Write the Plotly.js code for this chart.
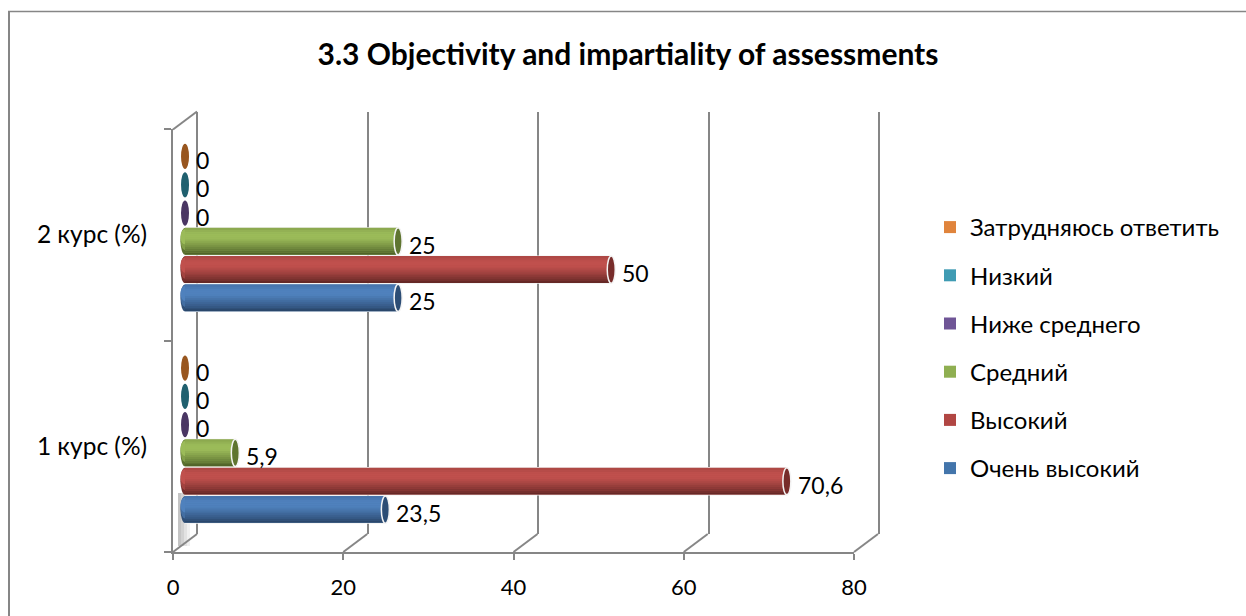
<!DOCTYPE html>
<html lang="ru">
<head>
<meta charset="utf-8">
<script src="https://cdn.plot.ly/plotly-3.0.1.min.js"></script>
<style>html,body{margin:0;padding:0;background:#fff;}#chart{width:1246px;height:616px;}</style>
</head>
<body>
<div id="chart"></div>
<script>
const courses = ['1 курс (%)', '2 курс (%)'];
const seriesNames = ['Очень высокий', 'Высокий', 'Средний', 'Ниже среднего', 'Низкий', 'Затрудняюсь ответить'];
const veryHigh = [23.5, 25];
const high = [70.6, 50];
const medium = [5.9, 25];
const belowMedium = [0, 0];
const low = [0, 0];
const hardToSay = [0, 0];
const seriesValues = [veryHigh, high, medium, belowMedium, low, hardToSay];
const axisTicks = [0, 20, 40, 60, 80];

const legendColors = ['#4375AB', '#B14643', '#8FAF51', '#6F5596', '#3F9BB3', '#E0843C'];
const mainColors = [[79,129,189],[192,80,77],[155,187,89],[128,100,162],[75,172,198],[247,150,70]];
const darkColors = [[38,64,98],[92,36,34],[72,90,36],[60,46,80],[30,80,95],[120,70,30]];
const capColors = ['#2C4D75', '#772C2A', '#5F7530', '#4A3663', '#20606F', '#98561F'];

const W = 1246, H = 616;
const fx = p => p / W;
const fy = p => 1 - p / H;
const GRAY = '#868686';
const FONT = 'Lato, Carlito, "Open Sans", sans-serif';

const unitPx = 681 / 80;
const catPx = 211.6, pitch = 28.3 / catPx, barH = 26.6 / catPx, NB = 14;
const slot = k => (k - 2.5) * pitch;
const mix = (a, b, t) => a.map((v, i) => Math.round(v + (b[i] - v) * t));
const rgb = c => `rgb(${c[0]},${c[1]},${c[2]})`;
function shade(k, t) {
  const m = mainColors[k], d = darkColors[k];
  if (t < 0.62) return rgb(mix(d, m, Math.pow(t / 0.62, 0.8)));
  if (t < 0.8) return rgb(m);
  return rgb(mix(m, d, (t - 0.8) / 0.2 * 0.22));
}

const traces = [];
// carriers for the back wall and the front axes
traces.push({type:'scatter', mode:'markers', x:[0], y:[0], xaxis:'x', yaxis:'y', marker:{opacity:0}, showlegend:false, hoverinfo:'skip'});
traces.push({type:'scatter', mode:'markers', x:[0,0], y:courses, xaxis:'x2', yaxis:'y2', marker:{opacity:0}, showlegend:false, hoverinfo:'skip'});

const shapes = [], annotations = [];

// pale floor shadow beside the axis
[[178,181,'#c4c4c4'],[181,184,'#d2d2d2'],[184,187,'#e2e2e2'],[187,190,'#f0f0f0']].forEach(s => {
  shapes.push({type:'rect', xref:'paper', yref:'paper', x0:fx(s[0]), x1:fx(s[1]), y0:fy(546), y1:fy(493), fillcolor:s[2], line:{width:0}, layer:'below'});
});

// legend lists the series top-down from the last one, so build them in that order
for (let k = seriesNames.length - 1; k >= 0; k--) {
  const name = seriesNames[k], vals = seriesValues[k];
  // rounded left ends, behind the bars
  vals.forEach((v, c) => {
    if (v > 0) {
      [[-13.4, 13.4, 0.1], [-9, 13.2, 0.4], [-3, 12, 0.72]].forEach(e => {
        shapes.push({type:'circle', xref:'x3', yref:'y3', layer:'between',
          xsizemode:'pixel', ysizemode:'pixel', xanchor:0, yanchor:c + slot(k), x0:-4.5, x1:4.5, y0:e[0], y1:e[1],
          fillcolor:shade(k, e[2]), line:{width:0}});
      });
    }
  });
  // pale halo that separates neighbouring cylinders
  traces.push({type:'bar', orientation:'h', showlegend:false, x:vals, y:courses, xaxis:'x3', yaxis:'y3',
    width:pitch, offset:slot(k) - pitch/2, marker:{color:'#f2f2f2', line:{width:0}}, hoverinfo:'skip'});
  traces.push({type:'bar', orientation:'h', name:name, legendgroup:name, x:vals, y:courses, xaxis:'x3', yaxis:'y3',
    width:barH, offset:slot(k) - barH/2, marker:{color:legendColors[k], line:{width:0}}, hoverinfo:'x+name'});
  for (let b = 0; b < NB; b++) {
    traces.push({type:'bar', orientation:'h', legendgroup:name, showlegend:false, x:vals, y:courses, xaxis:'x3', yaxis:'y3',
      width:barH/NB + 0.3/catPx, offset:slot(k) - barH/2 + b*barH/NB,
      marker:{color:shade(k, (b + 0.5)/NB), line:{width:0}}, hoverinfo:'skip'});
  }
  vals.forEach((v, c) => {
    shapes.push({type:'circle', xref:'x3', yref:'y3', layer:'above',
      xsizemode:'pixel', ysizemode:'pixel', xanchor:v, yanchor:c + slot(k), x0:-4, x1:4, y0:v>0?-13.6:-12.6, y1:v>0?13.6:12.6,
      fillcolor:capColors[k], line:v>0?{color:'#f4f4f4', width:1.5}:{width:0}});
    annotations.push({xref:'x3', yref:'y3', x:v, y:c + slot(k), text:String(v).replace('.', ','), showarrow:false,
      xanchor:'left', yanchor:'middle', xshift:9, yshift:-3.5, font:{family:FONT, size:23, color:'#000'}});
  });
}

// wall edges joining the front axis to the back wall
const edge = (t, yPx) => ({type:'line', xref:'paper', yref:'paper',
  x0:fx(173 + t*unitPx), x1:fx(173 + t*unitPx + 24), y0:fy(yPx), y1:fy(yPx - 18), line:{color:GRAY, width:2}, layer:'below'});
axisTicks.forEach(t => shapes.push(edge(t, 552)));
shapes.push(edge(0, 129.5));

// outer frame, visible on the left and at the top
shapes.push({type:'line', xref:'paper', yref:'paper', x0:fx(9), x1:fx(9), y0:fy(11), y1:fy(616), line:{color:GRAY, width:2}, layer:'below'});
shapes.push({type:'line', xref:'paper', yref:'paper', x0:fx(8), x1:fx(1246), y0:fy(11.5), y1:fy(11.5), line:{color:GRAY, width:1.5}, layer:'below'});

const wallUnit = 682 / 80;
const layout = {
  width:W, height:H, margin:{l:0, r:0, t:0, b:0}, paper_bgcolor:'#fff', plot_bgcolor:'rgba(0,0,0,0)',
  barmode:'overlay', showlegend:true, font:{family:FONT, color:'#000'},
  title:{text:'3.3 Objectivity and impartiality of assessments', x:628/W, xanchor:'center', y:fy(54), yanchor:'middle',
    font:{family:FONT, size:30, weight:700, color:'#000'}},
  // back wall: range runs past 0 and 80 so that the end grid lines are drawn
  xaxis:{domain:[fx(197.5 - wallUnit), fx(879.5 + wallUnit)], range:[-1,81], tickvals:axisTicks, showticklabels:false, ticks:'', showline:false, zeroline:false,
    showgrid:true, gridcolor:GRAY, gridwidth:2, anchor:'y', fixedrange:true},
  yaxis:{domain:[fy(534), fy(112)], range:[0,1], showticklabels:false, showgrid:false, zeroline:false, ticks:'', anchor:'x', fixedrange:true},
  // front axes
  xaxis2:{domain:[fx(173), fx(854)], range:[0,80], tickvals:axisTicks, anchor:'y2', showline:true, linecolor:GRAY, linewidth:2, ticks:'outside',
    ticklen:6, tickwidth:2, tickcolor:GRAY, showgrid:false, zeroline:false, tickfont:{family:FONT, size:22, color:'#000'}, ticklabelstandoff:9, fixedrange:true},
  yaxis2:{domain:[fy(552), fy(129)], type:'category', categoryorder:'array', categoryarray:courses, range:[-0.5,1.5], anchor:'x2', showline:true,
    linecolor:GRAY, linewidth:2, ticks:'outside', ticklen:7, tickwidth:2, tickcolor:GRAY, tickson:'boundaries', showgrid:false, zeroline:false,
    tickfont:{family:FONT, size:24.5, color:'#000'}, ticklabelstandoff:19, fixedrange:true},
  // cylinders, half way through the depth
  xaxis3:{domain:[fx(185 - 2*unitPx), fx(867)], range:[-2,80], anchor:'y3', visible:false, fixedrange:true},
  yaxis3:{domain:[fy(544.6), fy(121.4)], type:'category', categoryorder:'array', categoryarray:courses, range:[-0.5,1.5], anchor:'x3', visible:false, fixedrange:true},
  legend:{x:fx(942), xanchor:'left', y:fy(205), yanchor:'top', traceorder:'grouped', tracegroupgap:14, indentation:-12,
    font:{family:FONT, size:24, color:'#000'}, bgcolor:'rgba(0,0,0,0)', borderwidth:0},
  shapes:shapes, annotations:annotations
};
Plotly.newPlot('chart', traces, layout, {displayModeBar:false, staticPlot:true});
</script>
</body>
</html>
